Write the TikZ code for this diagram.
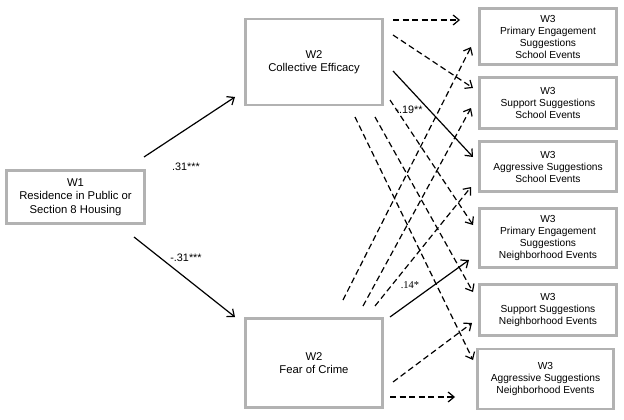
\documentclass[tikz,border=0pt]{standalone}
\usepackage{fontspec}
\setmainfont{Liberation Sans}
\newfontfamily\serifnum{Liberation Serif}
\usetikzlibrary{arrows.meta}
\begin{document}
\begin{tikzpicture}[x=1pt,y=-1pt,
  box/.style={draw=black!30, line width=2.6pt, align=center, inner sep=0pt,
    font=\fontsize{10.2}{12}\selectfont},
  bigbox/.style={box, font=\fontsize{11.3}{13.5}\selectfont},
  path/.style={line width=1.2pt, -{Straight Barb[length=6pt,width=10pt,line width=1.2pt]}},
  dpath/.style={path, dash pattern=on 6pt off 3.5pt},
  coef/.style={font=\fontsize{10.8}{12}\selectfont, inner sep=0pt}]
\useasboundingbox (0,0) rectangle (624,420);
\fill[white] (0,0) rectangle (624,420);
% boxes
\node[bigbox, minimum width=138pt, minimum height=53pt] (w1) at (75.5,197) {W1\\Residence in Public or\\Section 8 Housing};
\node[bigbox, minimum width=137pt, minimum height=86pt] (ce) at (314,62) {W2\\Collective Efficacy};
\node[bigbox, minimum width=137pt, minimum height=89pt] (fc) at (314,363) {W2\\Fear of Crime};
\node[box, minimum width=137pt, minimum height=56pt] (b1) at (548,36.5) {W3\\Primary Engagement\\Suggestions\\School Events};
\node[box, minimum width=137pt, minimum height=51pt] (b2) at (548,103) {W3\\Support Suggestions\\School Events};
\node[box, minimum width=137pt, minimum height=50pt] (b3) at (548,166.5) {W3\\Aggressive Suggestions\\School Events};
\node[box, minimum width=137pt, minimum height=59pt] (b4) at (548,238) {W3\\Primary Engagement\\Suggestions\\Neighborhood Events};
\node[box, minimum width=137pt, minimum height=51pt] (b5) at (548,310) {W3\\Support Suggestions\\Neighborhood Events};
\node[box, minimum width=136pt, minimum height=60pt] (b6) at (545.5,379) {W3\\Aggressive Suggestions\\Neighborhood Events};
% connector end points
\coordinate (w1a) at (144,157); \coordinate (cein) at (235,97);
\coordinate (w1b) at (134,237); \coordinate (fcin) at (235,317);
\coordinate (ce1) at (393,20);  \coordinate (b1a) at (460,20);
\coordinate (ce2) at (393,35);  \coordinate (b2a) at (473,88);
\coordinate (ce3) at (393,71);  \coordinate (b3a) at (473,157);
\coordinate (ce4) at (390,100); \coordinate (b4a) at (473,225);
\coordinate (ce5) at (375,117); \coordinate (b5a) at (473,292);
\coordinate (ce6) at (355,117); \coordinate (b6a) at (473,360);
\coordinate (fc1) at (343,300); \coordinate (b1b) at (471,47);
\coordinate (fc2) at (363,306); \coordinate (b2b) at (471,108);
\coordinate (fc3) at (375,306); \coordinate (b3b) at (471,187);
\coordinate (fc4) at (390,317); \coordinate (b4b) at (469,260);
\coordinate (fc5) at (393,382); \coordinate (b5b) at (472,323);
\coordinate (fc6) at (390,397); \coordinate (b6b) at (455,397);
% paths
\draw[path] (w1a) -- (cein);
\draw[path] (w1b) -- (fcin);
\draw[dpath] (ce1) -- (b1a);
\draw[dpath] (ce2) -- (b2a);
\draw[path]  (ce3) -- (b3a);
\draw[dpath] (ce4) -- (b4a);
\draw[dpath] (ce5) -- (b5a);
\draw[dpath] (ce6) -- (b6a);
\draw[dpath] (fc1) -- (b1b);
\draw[dpath] (fc2) -- (b2b);
\draw[dpath] (fc3) -- (b3b);
\draw[path]  (fc4) -- (b4b);
\draw[dpath] (fc5) -- (b5b);
\draw[dpath] (fc6) -- (b6b);
% coefficients
\node[coef] (l1) at (186,167) {.31***};
\node[coef] (l2) at (186,258) {-.31***};
\node[coef] (l3) at (409,110) {-.19**};
\node[coef, font=\serifnum\fontsize{10.5}{12}\selectfont] (l4) at (410,285) {.14*};
\end{tikzpicture}
\end{document}
